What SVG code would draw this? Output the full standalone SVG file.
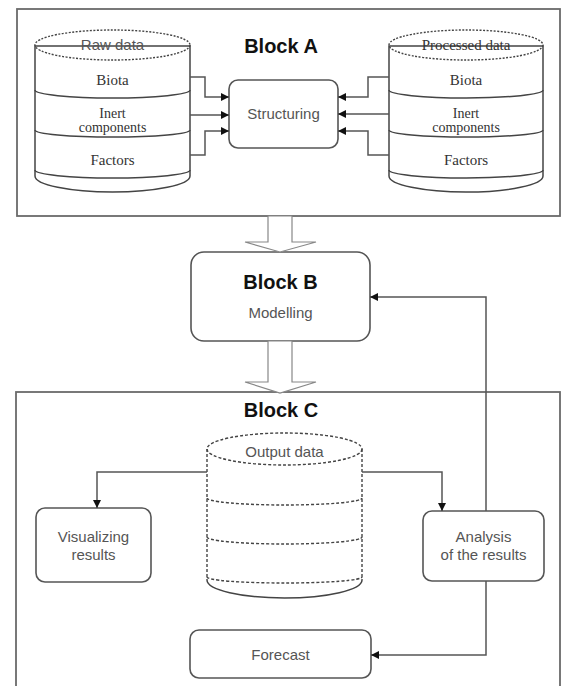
<svg xmlns="http://www.w3.org/2000/svg" width="562" height="686" viewBox="0 0 562 686">
<style>
.frame{fill:none;stroke:#6a6a6a;stroke-width:1.8}
.box{fill:#fff;stroke:#555;stroke-width:1.6}
.cyl{fill:#fff;stroke:#444;stroke-width:1.5}
.dash{fill:none;stroke:#444;stroke-width:1.4;stroke-dasharray:3,2}
.ln{fill:none;stroke:#444;stroke-width:1.5}
.conn{fill:none;stroke:#555;stroke-width:1.5}
.hollow{fill:#fff;stroke:#888;stroke-width:1.2}
.sans{font-family:"Liberation Sans",Arial,sans-serif;font-size:15px;fill:#555;text-anchor:middle}
.serif{font-family:"Liberation Serif","Times New Roman",serif;font-size:15px;fill:#333;text-anchor:middle}
.sm{font-size:14px}
.bold{font-family:"Liberation Sans",Arial,sans-serif;font-size:20px;font-weight:bold;fill:#111;text-anchor:middle}
</style>
<defs>
<marker id="ah" viewBox="0 0 10 10" refX="10" refY="5" markerWidth="8" markerHeight="8" orient="auto" markerUnits="userSpaceOnUse">
<path d="M0,0 L10,5 L0,10 z" fill="#111"/>
</marker>
</defs>

<g id="blockA">
<rect class="frame" x="17" y="9" width="543" height="207"/>
<text class="bold" x="281" y="53">Block A</text>
</g>

<g id="rawdata">
<path class="cyl" d="M35,46 V176 A77.5,16 0 0 0 190,176 V46 Z"/>
<ellipse class="dash" cx="112.5" cy="45" rx="77.5" ry="15" style="stroke-dasharray:2,1.5"/>
<path class="ln" d="M35,90 A77.5,8 0 0 0 190,90"/>
<path class="ln" d="M35,130 A77.5,7 0 0 0 190,130"/>
<path class="ln" d="M35,170 A77.5,8 0 0 0 190,170"/>
<text class="sans" x="112.5" y="50">Raw data</text>
<text class="serif" x="112.5" y="85">Biota</text>
<text class="serif sm" x="112.5" y="118">Inert</text>
<text class="serif sm" x="112.5" y="132">components</text>
<text class="serif" x="112.5" y="165">Factors</text>
</g>

<g id="processed">
<path class="cyl" d="M389,46 V176 A77,16 0 0 0 543,176 V46 Z"/>
<ellipse class="dash" cx="466" cy="45" rx="77" ry="15" style="stroke-dasharray:2,1.5"/>
<path class="ln" d="M389,90 A77,8 0 0 0 543,90"/>
<path class="ln" d="M389,130 A77,7 0 0 0 543,130"/>
<path class="ln" d="M389,170 A77,8 0 0 0 543,170"/>
<text class="serif" x="466" y="50">Processed data</text>
<text class="serif" x="466" y="85">Biota</text>
<text class="serif sm" x="466" y="118">Inert</text>
<text class="serif sm" x="466" y="132">components</text>
<text class="serif" x="466" y="165">Factors</text>
</g>

<g id="structuring">
<rect class="box" x="229" y="80" width="109" height="68" rx="9"/>
<text class="sans" x="283.5" y="119">Structuring</text>
</g>

<g id="blockB">
<rect class="box" x="191" y="252" width="179" height="89" rx="13"/>
<text class="bold" x="280.5" y="289">Block B</text>
<text class="sans" x="280.5" y="318">Modelling</text>
</g>

<g id="blockC">
<rect class="frame" x="16" y="392" width="544" height="320"/>
<text class="bold" x="281" y="417">Block C</text>
</g>

<g id="outputdata">
<path d="M207,449 V580 A77.5,18 0 0 0 362,580 V449 Z" fill="#fff" stroke="none"/>
<path class="ln" d="M207,580 A77.5,18 0 0 0 362,580"/>
<path class="dash" d="M207,449 V580 M362,449 V580"/>
<ellipse class="dash" cx="284.5" cy="449" rx="77.5" ry="16"/>
<path class="dash" d="M207,498 A77.5,7 0 0 0 362,498"/>
<path class="dash" d="M207,537 A77.5,7 0 0 0 362,537"/>
<path class="dash" d="M207,577 A77.5,6 0 0 0 362,577"/>
<text class="sans" x="284.5" y="457">Output data</text>
</g>

<g id="visualizing">
<rect class="box" x="36" y="508" width="115" height="74" rx="9"/>
<text class="sans" x="93.5" y="542">Visualizing</text>
<text class="sans" x="93.5" y="560">results</text>
</g>

<g id="analysis">
<rect class="box" x="423" y="511" width="121" height="70" rx="9"/>
<text class="sans" x="483.5" y="542">Analysis</text>
<text class="sans" x="483.5" y="560">of the results</text>
</g>

<g id="forecast">
<rect class="box" x="190" y="630" width="181" height="48" rx="9"/>
<text class="sans" x="280.5" y="660">Forecast</text>
</g>

<g id="connectors">
<path class="conn" d="M190,77 H205 V97 H229" marker-end="url(#ah)"/>
<path class="conn" d="M190,115 H229" marker-end="url(#ah)"/>
<path class="conn" d="M190,155 H205 V131 H229" marker-end="url(#ah)"/>
<path class="conn" d="M389,77 H368 V97 H338" marker-end="url(#ah)"/>
<path class="conn" d="M389,114 H338" marker-end="url(#ah)"/>
<path class="conn" d="M389,155 H368 V131 H338" marker-end="url(#ah)"/>
<polygon class="hollow" points="268,216 292,216 292,242 316,242 280,252 245,242 268,242"/>
<polygon class="hollow" points="268,341 292,341 292,382 316,382 280,393 245,382 268,382"/>
<path class="conn" d="M486,511 V297 H370" marker-end="url(#ah)"/>
<path class="conn" d="M486,581 V655 H371" marker-end="url(#ah)"/>
<path class="conn" d="M207,472 H97 V508" marker-end="url(#ah)"/>
<path class="conn" d="M362,472 H442 V511" marker-end="url(#ah)"/>
</g>
</svg>
